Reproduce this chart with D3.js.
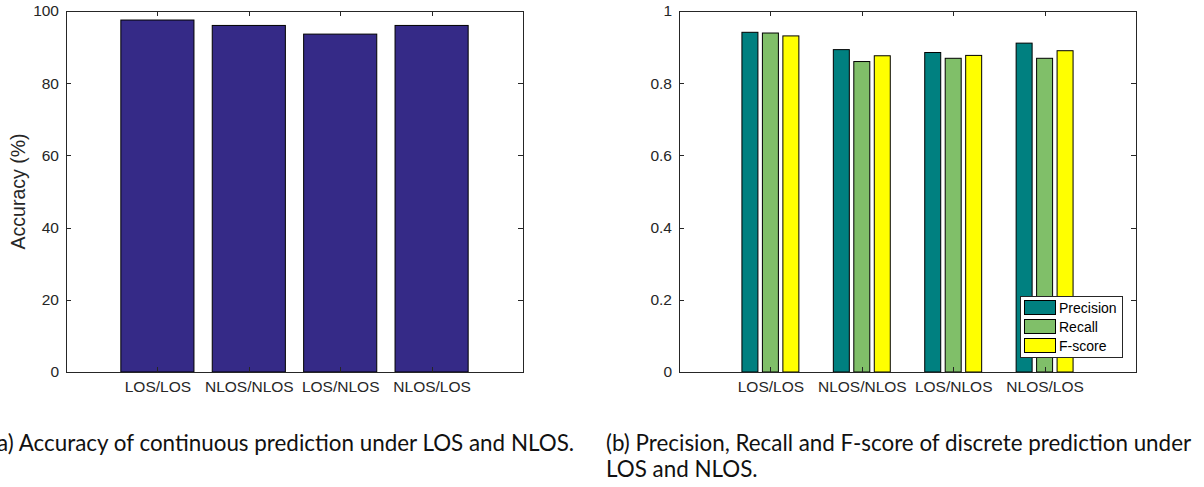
<!DOCTYPE html>
<html>
<head>
<meta charset="utf-8">
<script src="https://cdn.jsdelivr.net/npm/d3@7"></script>
<style>
  html, body { margin: 0; padding: 0; background: #fff; }
  svg { display: block; }
  .tick text { font-family: "Liberation Sans", Arial, sans-serif; }
</style>
</head>
<body>
<svg id="fig" width="1204" height="487"></svg>
<script>
// Categories shared by both panels
const categories = ["LOS/LOS", "NLOS/NLOS", "LOS/NLOS", "NLOS/LOS"];

// Panel (a): accuracy of continuous prediction, in percent
const accuracy = [97.5, 96.0, 93.6, 96.0];
const accuracyTicks = [0, 20, 40, 60, 80, 100];

// Panel (b): discrete prediction scores
const seriesNames = ["Precision", "Recall", "F-score"];
const precision = [0.941, 0.893, 0.885, 0.911];
const recall    = [0.939, 0.860, 0.869, 0.869];
const fscore    = [0.931, 0.876, 0.877, 0.890];
const scoreTicks = [0, 0.2, 0.4, 0.6, 0.8, 1];

const seriesColors = ["#008080", "#80bf69", "#ffff00"];
const axisColor = "#262626";
const tickFont = 15.5;

const svg = d3.select("#fig");

// Boxed axes frame with inward ticks on all four sides
function drawFrame(g, x, y, w, h, yTicks, fmt) {
  const tickLen = 5;
  const xCenters = categories.map((c, i) => x(i + 1));

  const yAxis = d3.axisLeft(y).tickValues(yTicks).tickFormat(fmt).tickSize(0).tickPadding(7);
  const ya = g.append("g").call(yAxis);
  ya.select(".domain").remove();
  ya.selectAll("text").attr("fill", axisColor).style("font-size", tickFont + "px");

  const xAxis = d3.axisBottom(x).tickValues(categories.map((c, i) => i + 1))
    .tickFormat((d) => categories[d - 1]).tickSize(0).tickPadding(9);
  const xa = g.append("g").attr("transform", `translate(0,${h})`).call(xAxis);
  xa.select(".domain").remove();
  xa.selectAll("text").attr("fill", axisColor).style("font-size", tickFont + "px");

  return function drawOverlay() {
    const ov = g.append("g").attr("stroke", axisColor).attr("stroke-width", 1).attr("fill", "none");
    yTicks.forEach((t) => {
      const yy = Math.round(y(t)) + 0.5;
      ov.append("line").attr("x1", 0).attr("x2", tickLen).attr("y1", yy).attr("y2", yy);
      ov.append("line").attr("x1", w).attr("x2", w - tickLen).attr("y1", yy).attr("y2", yy);
    });
    xCenters.forEach((cx) => {
      const xx = Math.round(cx) + 0.5;
      ov.append("line").attr("x1", xx).attr("x2", xx).attr("y1", h).attr("y2", h - tickLen);
      ov.append("line").attr("x1", xx).attr("x2", xx).attr("y1", 0).attr("y2", tickLen);
    });
    ov.append("rect").attr("x", 0.5).attr("y", 0.5).attr("width", w).attr("height", h);
  };
}

const plotTop = 11, plotH = 361, plotW = 457;

// ---------- Panel (a) ----------
{
  const left = 66;
  const g = svg.append("g").attr("transform", `translate(${left},${plotTop})`);
  const x = d3.scaleLinear().domain([0, 5]).range([0, plotW]);
  const y = d3.scaleLinear().domain([0, 100]).range([plotH, 0]);
  const overlay = drawFrame(g, x, y, plotW, plotH, accuracyTicks, d3.format("d"));

  const bw = x(0.8) - x(0);
  g.append("g").selectAll("rect").data(accuracy).join("rect")
    .attr("x", (d, i) => x(i + 1) - bw / 2)
    .attr("y", (d) => y(d))
    .attr("width", bw)
    .attr("height", (d) => y(0) - y(d))
    .attr("fill", "#352a87")
    .attr("stroke", "#000")
    .attr("stroke-width", 1);

  overlay();

  svg.append("text")
    .attr("transform", `translate(${25},${plotTop + plotH / 2}) rotate(-90)`)
    .attr("text-anchor", "middle")
    .attr("font-family", "Liberation Sans, Arial, sans-serif")
    .attr("font-size", 19.5)
    .attr("fill", axisColor)
    .text("Accuracy (%)");
}

// ---------- Panel (b) ----------
{
  const left = 679;
  const g = svg.append("g").attr("transform", `translate(${left},${plotTop})`);
  const x = d3.scaleLinear().domain([0, 5]).range([0, plotW]);
  const y = d3.scaleLinear().domain([0, 1]).range([plotH, 0]);
  const overlay = drawFrame(g, x, y, plotW, plotH, scoreTicks,
    (d) => (d === 0 || d === 1) ? String(d) : d3.format(".1f")(d));

  const series = [precision, recall, fscore];
  const bw = x(0.175) - x(0);
  const offset = x(0.224) - x(0);
  series.forEach((vals, s) => {
    g.append("g").selectAll("rect").data(vals).join("rect")
      .attr("x", (d, i) => x(i + 1) + (s - 1) * offset - bw / 2)
      .attr("y", (d) => y(d))
      .attr("width", bw)
      .attr("height", (d) => y(0) - y(d))
      .attr("fill", seriesColors[s])
      .attr("stroke", "#000")
      .attr("stroke-width", 1);
  });

  overlay();

  // legend
  const lg = svg.append("g").attr("transform", "translate(1020,296)");
  lg.append("rect").attr("x", 0.5).attr("y", 0.5).attr("width", 102).attr("height", 61)
    .attr("fill", "#fff").attr("stroke", axisColor).attr("stroke-width", 1);
  seriesNames.forEach((name, i) => {
    const yy = 4 + i * 19;
    lg.append("rect").attr("x", 4.5).attr("y", yy + 0.5).attr("width", 31).attr("height", 14)
      .attr("fill", seriesColors[i]).attr("stroke", "#000").attr("stroke-width", 1);
    lg.append("text").attr("x", 39).attr("y", yy + 13)
      .attr("font-family", "Liberation Sans, Arial, sans-serif")
      .attr("font-size", 14).attr("fill", "#000").text(name);
  });
}

// ---------- Captions ----------
const captionFont = "Lato, 'Open Sans', sans-serif";
const captionSize = 22.4;
svg.append("text").attr("x", -8.5).attr("y", 451)
  .attr("font-family", captionFont).attr("font-size", captionSize).attr("fill", "#111")
  .text("(a) Accuracy of continuous prediction under LOS and NLOS.");
const capB = svg.append("text").attr("font-family", captionFont)
  .attr("font-size", captionSize).attr("fill", "#111");
capB.append("tspan").attr("x", 606).attr("y", 451)
  .text("(b) Precision, Recall and F-score of discrete prediction under");
capB.append("tspan").attr("x", 606).attr("y", 477).text("LOS and NLOS.");
</script>
</body>
</html>
